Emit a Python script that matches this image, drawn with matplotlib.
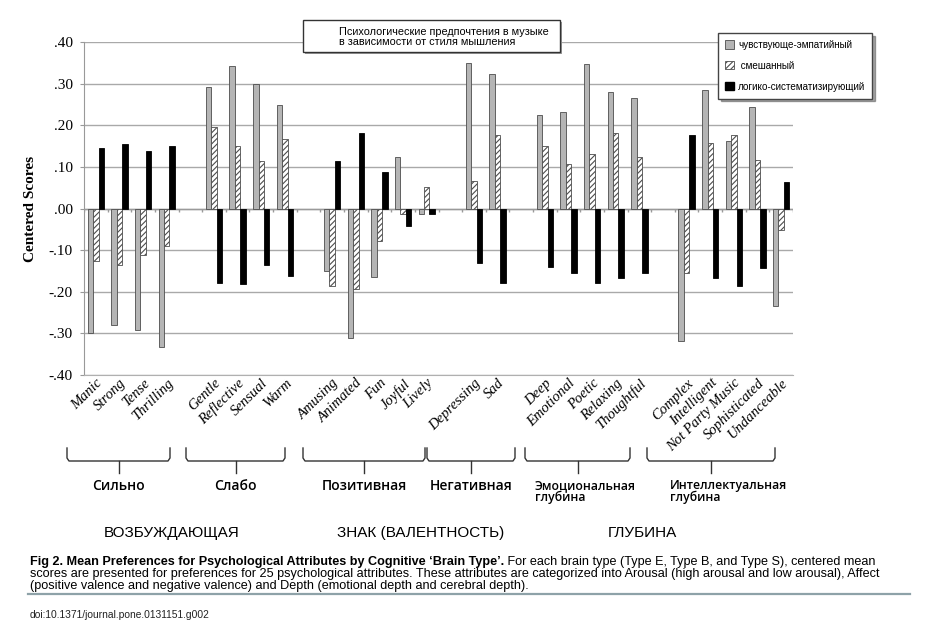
import numpy as np
import matplotlib
matplotlib.use("Agg")
import matplotlib.pyplot as plt
from matplotlib import font_manager
from matplotlib.patches import Rectangle, Patch
from matplotlib.lines import Line2D

# Data
attributes = ["Manic", "Strong", "Tense", "Thrilling",
              "Gentle", "Reflective", "Sensual", "Warm",
              "Amusing", "Animated", "Fun", "Joyful", "Lively",
              "Depressing", "Sad",
              "Deep", "Emotional", "Poetic", "Relaxing", "Thoughtful",
              "Complex", "Intelligent", "Not Party Music", "Sophisticated", "Undanceable"]
group_sizes = [4, 4, 5, 2, 5, 5]
group_labels = ["Сильно", "Слабо", "Позитивная", "Негативная",
                "Эмоциональная\nглубина", "Интеллектуальная\nглубина"]
dimension_labels = ["ВОЗБУЖДАЮЩАЯ", "ЗНАК (ВАЛЕНТНОСТЬ)", "ГЛУБИНА"]
series_names = ["чувствующе-эмпатийный", " смешанный", "логико-систематизирующий"]

type_e = [-0.298, -0.280, -0.293, -0.332,
          0.292, 0.343, 0.299, 0.248,
          -0.149, -0.312, -0.165, 0.124, -0.014,
          0.350, 0.324,
          0.225, 0.233, 0.346, 0.281, 0.266,
          -0.319, 0.285, 0.162, 0.245, -0.234]
type_b = [-0.125, -0.135, -0.112, -0.089,
          0.196, 0.149, 0.114, 0.167,
          -0.187, -0.194, -0.079, -0.014, 0.052,
          0.066, 0.176,
          0.150, 0.107, 0.131, 0.181, 0.124,
          -0.156, 0.157, 0.176, 0.116, -0.051]
type_s = [0.146, 0.155, 0.137, 0.149,
          -0.180, -0.181, -0.136, -0.163,
          0.115, 0.182, 0.087, -0.042, -0.014,
          -0.132, -0.180,
          -0.141, -0.156, -0.178, -0.168, -0.154,
          0.176, -0.166, -0.185, -0.143, 0.063]

title_text = "Психологические предпочтения в музыке\nв зависимости от стиля мышления"
caption_bold = "Fig 2. Mean Preferences for Psychological Attributes by Cognitive \u2018Brain Type\u2019."
caption_lines = [" For each brain type (Type E, Type B, and Type S), centered mean",
                 "scores are presented for preferences for 25 psychological attributes. These attributes are categorized into Arousal (high arousal and low arousal), Affect",
                 "(positive valence and negative valence) and Depth (emotional depth and cerebral depth)."]
doi_text = "doi:10.1371/journal.pone.0131151.g002"

# fonts
avail = {f.name for f in font_manager.fontManager.ttflist}
NARROW = "Liberation Sans Narrow" if "Liberation Sans Narrow" in avail else "Liberation Sans"
SERIF = "Liberation Serif"
plt.rcParams["hatch.color"] = "#6a6a6a"
plt.rcParams["hatch.linewidth"] = 0.8

W, H = 947, 632
fig = plt.figure(figsize=(W / 100, H / 100), dpi=100)
ax = fig.add_axes([84 / W, 1 - 375 / H, (793 - 84) / W, (375 - 42) / H])


def fx(px):
    return px / W


def fy(py):
    return 1 - py / H


# slot positions, one empty slot between groups
pos = []
slot = 0
for n in group_sizes:
    pos.extend(range(slot, slot + n))
    slot += n + 1
x = np.array(pos)
n_slots = slot - 1

w = 0.23
ax.bar(x - w, type_e, w, color="#b5b5b5", edgecolor="#4d4d4d", lw=0.6, zorder=3)
ax.bar(x, type_b, w, color="white", edgecolor="#4d4d4d", hatch="//////", lw=0.6, zorder=3)
ax.bar(x + w, type_s, w, color="black", edgecolor="black", lw=0.6, zorder=3)

ax.set_xlim(-0.5, n_slots - 0.5)
ax.set_ylim(-0.4, 0.4)
yt = np.round(np.arange(-0.4, 0.41, 0.1), 2)
ax.set_yticks(yt)
ax.set_yticklabels([f"{v:.2f}".replace("0.", ".") if abs(v) > 1e-9 else ".00" for v in yt],
                   family=SERIF, fontsize=11)
ax.yaxis.grid(True, color="#a9a9a9", lw=1)
ax.set_axisbelow(True)
ax.tick_params(axis="y", length=3, color="#999999", pad=5)

# zero line with slot tick marks
ax.axhline(0, color="#9a9a9a", lw=1, zorder=2)
ax.vlines(np.arange(-0.5, n_slots), -0.008, 0, color="#9a9a9a", lw=1, zorder=2)

for s in ["top", "right"]:
    ax.spines[s].set_visible(False)
ax.spines["left"].set_color("#999999")
ax.spines["bottom"].set_color("#b0b0b0")

ax.set_xticks(x)
ax.set_xticklabels(attributes, rotation=45, ha="right", rotation_mode="anchor",
                   family=SERIF, style="italic", fontsize=10.5)
ax.tick_params(axis="x", length=0, pad=1)

ax.set_ylabel("Centered Scores", family=SERIF, weight="bold", fontsize=11)
ax.yaxis.set_label_coords((37 - 84) / (793 - 84), 0.5)

# title box
fig.patches.append(Rectangle((fx(305), fy(54)), fx(562) - fx(305), fy(22) - fy(54),
                             transform=fig.transFigure, facecolor="#9a9a9a", edgecolor="none", zorder=4))
fig.patches.append(Rectangle((fx(303), fy(52)), fx(560) - fx(303), fy(20) - fy(52),
                             transform=fig.transFigure, facecolor="white", edgecolor="#333333", lw=1, zorder=5))
fig.text(fx(339), fy(37), title_text, family=NARROW, fontsize=7.8, va="center", ha="left",
         linespacing=1.1, zorder=6)

# legend
handles = [Patch(facecolor="#b5b5b5", edgecolor="#4d4d4d", lw=0.6),
           Patch(facecolor="white", edgecolor="#4d4d4d", hatch="//////", lw=0.6),
           Patch(facecolor="black", edgecolor="black")]
leg = fig.legend(handles, series_names, loc="upper left", bbox_to_anchor=(fx(718), fy(33)),
                 bbox_transform=fig.transFigure, prop={"family": NARROW, "size": 7.1},
                 frameon=True, fancybox=False, edgecolor="#444444", framealpha=1,
                 shadow=True, handlelength=0.9, handleheight=0.9, handletextpad=0.45,
                 labelspacing=1.1, borderpad=0.7, borderaxespad=0)
leg.get_frame().set_linewidth(1)
leg.set_zorder(6)

# group brackets
bracket_px = [(67, 170), (186, 285), (303, 425), (427, 515), (525, 630), (647, 775)]
for (l, r), lab in zip(bracket_px, group_labels):
    mid = (l + r) / 2
    xs = [l, l, l + 2, r - 2, r, r]
    ys = [448, 458, 461, 461, 458, 448]
    fig.lines.append(Line2D([fx(v) for v in xs], [fy(v) for v in ys], transform=fig.transFigure,
                            color="#333333", lw=1))
    fig.lines.append(Line2D([fx(mid), fx(mid)], [fy(461), fy(473)], transform=fig.transFigure,
                            color="#333333", lw=1))
    if "\n" in lab:
        left = 535 if lab.startswith("Эмо") else 670
        fig.text(fx(left), fy(479), lab, family="Open Sans", weight="semibold", fontsize=8.8,
                 ha="left", va="top", linespacing=0.9)
    else:
        fig.text(fx(mid), fy(486), lab, family="Open Sans", weight="semibold", fontsize=10,
                 ha="center", va="center")

# dimension labels
for cx, lab in zip([172, 421, 642], dimension_labels):
    fig.text(fx(cx), fy(533), lab, family=NARROW, fontsize=11, ha="center", va="center")

# caption
cap_size = 9.1
cb = fig.text(fx(30), fy(562), caption_bold, family="Liberation Sans", weight="bold",
              fontsize=cap_size, ha="left", va="center")
plt.annotate(caption_lines[0], xy=(1, 0), xycoords=cb, va="bottom", ha="left",
             family="Liberation Sans", fontsize=cap_size, annotation_clip=False)
for i, line in enumerate(caption_lines[1:]):
    fig.text(fx(30), fy(574 + 11.7 * i), line, family="Liberation Sans", fontsize=cap_size,
             ha="left", va="center")
fig.lines.append(Line2D([fx(28), fx(910)], [fy(594), fy(594)], transform=fig.transFigure,
                        color="#8ea2a8", lw=1.6))
fig.text(fx(30), fy(615), doi_text, family="Liberation Sans", fontsize=7.4, ha="left",
         va="center", color="#222222")

fig.savefig("out.png", dpi=100)
